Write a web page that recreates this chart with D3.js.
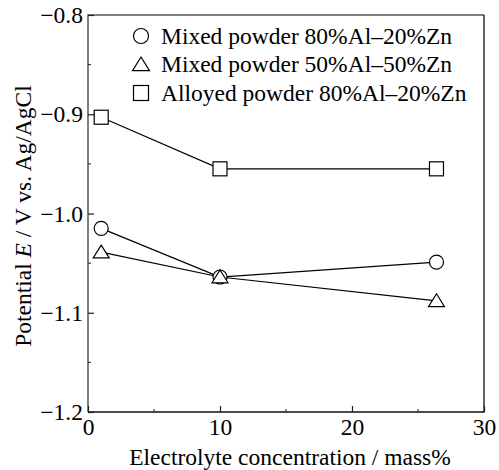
<!DOCTYPE html>
<html>
<head>
<meta charset="utf-8">
<script src="https://cdn.jsdelivr.net/npm/d3@7"></script>
<style>
  body { margin: 0; background: #fff; }
  svg text { font-family: "Liberation Serif", "DejaVu Serif", serif; fill: #000; }
</style>
</head>
<body>
<div id="chart"></div>
<script>
  // Data
  var concentration = [1, 10, 26.4];
  var mixed8020 = [-1.015, -1.064, -1.049];
  var mixed5050 = [-1.039, -1.064, -1.088];
  var alloyed8020 = [-0.903, -0.955, -0.955];
  var seriesNames = ["Mixed powder 80%Al\u201320%Zn", "Mixed powder 50%Al\u201350%Zn", "Alloyed powder 80%Al\u201320%Zn"];
  var seriesShapes = ["circle", "triangle", "square"];
  var xTicks = [0, 10, 20, 30];
  var yTicks = [-0.8, -0.9, -1.0, -1.1, -1.2];

  var width = 499, height = 470;
  var margin = { top: 15, right: 15, bottom: 58, left: 88 };
  var fontSize = 23.5;

  var svg = d3.select("#chart").append("svg")
              .attr("width", width)
              .attr("height", height);

  var xScale = d3.scaleLinear().domain([0, 30]).range([margin.left, width - margin.right]);
  var yScale = d3.scaleLinear().domain([-1.2, -0.8]).range([height - margin.bottom, margin.top]);

  // Frame: left/top a little lighter, like the scan
  var x0 = xScale(0), x1 = xScale(30), y0 = yScale(-1.2), y1 = yScale(-0.8);
  svg.append("path").attr("d", "M" + x0 + "," + y0 + "V" + y1 + "H" + x1)
     .attr("fill", "none").attr("stroke", "#555").attr("stroke-width", 1.5);
  svg.append("path").attr("d", "M" + x1 + "," + y1 + "V" + y0 + "H" + x0)
     .attr("fill", "none").attr("stroke", "#111").attr("stroke-width", 1.3);

  var fmtY = function(d) { return d3.format(".1f")(d).replace("-", "\u2212"); };

  // Axes with inward ticks
  var xAxis = d3.axisBottom(xScale).tickValues(xTicks).tickSize(-6).tickPadding(6).tickFormat(d3.format("d"));
  var gx = svg.append("g").attr("transform", "translate(0," + y0 + ")").call(xAxis);
  var yAxis = d3.axisLeft(yScale).tickValues(yTicks).tickSize(-6).tickPadding(5).tickFormat(fmtY);
  var gy = svg.append("g").attr("transform", "translate(" + x0 + ",0)").call(yAxis);

  [gx, gy].forEach(function(g) {
    g.attr("font-family", null).attr("font-size", null);
    g.select(".domain").remove();
    g.selectAll("line").attr("stroke", "#222").attr("stroke-width", 1.2);
    g.selectAll("text").attr("font-size", fontSize);
  });
  gx.selectAll("text").attr("dy", "0.72em");

  // Minor ticks
  svg.selectAll("line.xminor").data([5, 15, 25]).enter().append("line")
     .attr("x1", function(d) { return xScale(d); }).attr("x2", function(d) { return xScale(d); })
     .attr("y1", y0).attr("y2", y0 - 3)
     .attr("stroke", "#222");
  svg.selectAll("line.yminor").data([-0.85, -0.95, -1.05, -1.15]).enter().append("line")
     .attr("x1", x0).attr("x2", x0 + 3)
     .attr("y1", function(d) { return yScale(d); }).attr("y2", function(d) { return yScale(d); })
     .attr("stroke", "#222");

  // Axis titles
  svg.append("text")
     .attr("x", 290).attr("y", 465)
     .attr("text-anchor", "middle").attr("font-size", fontSize)
     .text("Electrolyte concentration / mass%");

  var yTitle = svg.append("text")
     .attr("transform", "translate(31,216) rotate(-90)")
     .attr("text-anchor", "middle").attr("font-size", fontSize);
  yTitle.append("tspan").text("Potential ");
  yTitle.append("tspan").attr("font-style", "italic").text("E");
  yTitle.append("tspan").text(" / V vs. Ag/AgCl");

  // Marker shapes
  function drawMarker(g, shape, cx, cy, size) {
    if (shape === "circle") {
      g.append("circle").attr("cx", cx).attr("cy", cy).attr("r", size / 2)
       .attr("fill", "#fff").attr("stroke", "#000").attr("stroke-width", 1.2);
    } else if (shape === "triangle") {
      var s = size + 2, h = s * 0.8;
      g.append("path")
       .attr("d", "M" + cx + "," + (cy - h * 0.55) + "L" + (cx + s / 2) + "," + (cy + h * 0.45) + "L" + (cx - s / 2) + "," + (cy + h * 0.45) + "Z")
       .attr("fill", "#fff").attr("stroke", "#000").attr("stroke-width", 1.2);
    } else {
      g.append("rect").attr("x", cx - size / 2).attr("y", cy - size / 2).attr("width", size).attr("height", size)
       .attr("fill", "#fff").attr("stroke", "#000").attr("stroke-width", 1.2);
    }
  }

  var allSeries = [mixed8020, mixed5050, alloyed8020];
  var line = d3.line()
               .x(function(d, i) { return xScale(concentration[i]); })
               .y(function(d) { return yScale(d); });

  allSeries.forEach(function(values) {
    svg.append("path").datum(values)
       .attr("d", line).attr("fill", "none")
       .attr("stroke", "#000").attr("stroke-width", 1.2);
  });
  allSeries.forEach(function(values, k) {
    var g = svg.append("g");
    values.forEach(function(v, i) {
      drawMarker(g, seriesShapes[k], xScale(concentration[i]), yScale(v), 14);
    });
  });

  // Legend
  var legend = svg.append("g");
  seriesNames.forEach(function(name, k) {
    var ly = 36 + k * 28.5;
    drawMarker(legend, seriesShapes[k], 141, ly, 15);
    legend.append("text").attr("x", 161).attr("y", ly).attr("dy", "0.32em")
          .attr("font-size", fontSize).text(name);
  });
</script>
</body>
</html>
